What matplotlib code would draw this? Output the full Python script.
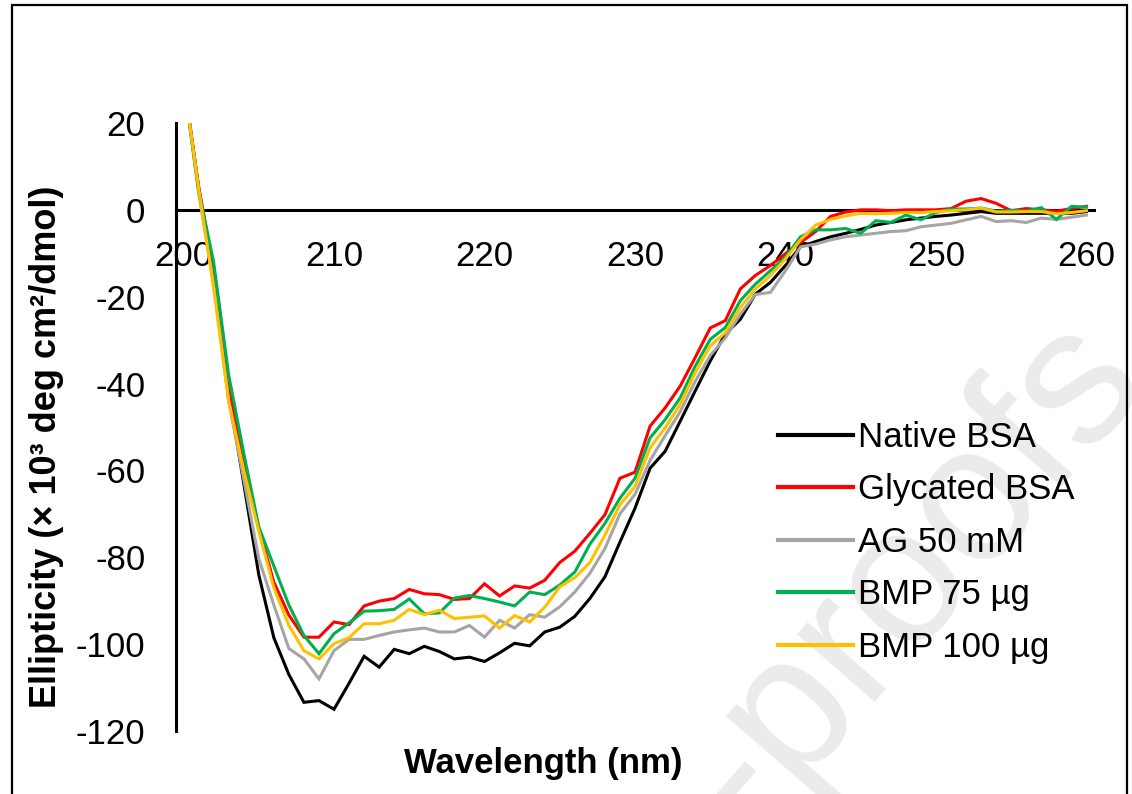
import matplotlib
matplotlib.use("Agg")
import matplotlib.pyplot as plt
from matplotlib.lines import Line2D
from matplotlib.patches import Rectangle

plt.rcParams['font.family'] = ['Liberation Sans', 'DejaVu Sans']

wavelength = list(range(200, 261))

native_bsa = [30, 5, -16, -42, -63, -84, -98.5, -107, -113.4, -113.0,
              -115.0, -109, -102.8, -105.3, -101.2, -102.2, -100.5, -101.7, -103.4, -103.0,
              -104.0, -102.0, -99.8, -100.4, -97.2, -96.1, -93.6, -89.5, -84.5, -76.5,
              -68.7, -59.5, -55.6, -48.7, -41.7, -34.8, -28.6, -25.2, -19.4, -16.7,
              -12.8, -8.5, -7.3, -6.2, -5.4, -4.5, -3.5, -2.9, -2.3, -1.9,
              -1.5, -1.2, -0.8, -0.4, -0.8, -0.8, -0.8, -0.8, -0.8, -0.8,
              -0.4]
glycated_bsa = [30, 5.5, -14, -41, -58, -73.3, -85.7, -93.3, -98.4, -98.4,
                -94.9, -95.5, -91.2, -90.1, -89.5, -87.4, -88.4, -88.6, -89.7, -89.5,
                -86.1, -88.9, -86.6, -87.1, -85.3, -81.2, -78.6, -74.5, -70.2, -61.8,
                -60.4, -49.8, -45.6, -40.6, -34.0, -27.2, -25.5, -18.2, -15.1, -12.8,
                -10.1, -7.5, -5.0, -1.5, -0.5, 0, 0, -0.2, 0, 0,
                0, 0.3, 2.0, 2.6, 1.5, -0.2, 0.3, 0, -0.3, 0.3,
                0.8]
ag_50mm = [30, 4, -17, -44, -62, -80.3, -91, -101, -103.4, -108,
           -101.5, -98.9, -98.9, -98, -97.2, -96.7, -96.3, -97.2, -97.2, -95.7,
           -98.4, -94.5, -96.3, -93.2, -93.8, -91.4, -88, -83.7, -78, -70,
           -65.5, -57.7, -52, -46.5, -39.5, -33.5, -29.5, -24, -19.5, -19,
           -14, -8.5, -7.9, -6.9, -6.2, -5.8, -5.4, -5.0, -4.8, -3.9,
           -3.5, -3.1, -2.3, -1.5, -2.7, -2.5, -2.9, -1.9, -2.2, -1.7,
           -1.2]
bmp_75 = [30, 4.5, -12, -38, -56, -73, -82, -91, -98, -102.2,
          -97.6, -95.1, -92.4, -92.3, -92, -89.6, -93, -92.8, -89.4, -88.8,
          -89.5, -90.3, -91.2, -88, -88.6, -86.4, -83.4, -77, -72.2, -66.4,
          -61.8, -52.5, -48.3, -43.3, -36, -29.8, -27.1, -20.9, -17.1, -14,
          -10.9, -6.2, -4.6, -4.6, -4.3, -5.4, -2.5, -2.9, -1.2, -2.3,
          -0.6, 0.2, 0.2, 0.4, -0.3, -0.1, -0.3, 0.5, -2.2, 0.8,
          0.6]
bmp_100 = [30, 5, -18, -44, -60, -74, -87, -95.7, -101.5, -103.4,
           -99.9, -98.5, -95.3, -95.3, -94.5, -92, -93.2, -92.2, -94.1, -93.8,
           -93.5, -96.3, -93.4, -94.9, -91.5, -86.8, -84.7, -81.2, -74.9, -67.9,
           -63.7, -54.8, -50.2, -44.8, -37.5, -31.3, -28.3, -22.5, -18.2, -15.1,
           -11.3, -6.9, -3.5, -2.2, -1.4, -0.8, -0.9, -0.8, -0.6, -0.6,
           -0.4, -0.2, 0, 0.4, -0.5, -0.5, -0.4, -0.4, -0.9, -0.6,
           -0.2]

series_names = ["Native BSA", "Glycated BSA", "AG 50 mM", "BMP 75 \u00b5g", "BMP 100 \u00b5g"]
series_colors = ["#000000", "#FF0000", "#A5A5A5", "#00B050", "#FFC000"]
series_values = [native_bsa, glycated_bsa, ag_50mm, bmp_75, bmp_100]

x_ticks = [200, 210, 220, 230, 240, 250, 260]
y_ticks = [20, 0, -20, -40, -60, -80, -100, -120]

W, H = 1132, 794
fig = plt.figure(figsize=(W / 100, H / 100), dpi=100)

# watermark
fig.text(1150 / W, 1 - 385 / H, "Journal Pre-proofs", fontsize=140, color="#ebebeb",
         rotation=49, rotation_mode="anchor", ha="right", va="baseline", zorder=0)

# outer frame
fig.patches.append(Rectangle((12 / W, -0.1), (1127 - 12) / W, (1 - 5 / H) + 0.1,
                             transform=fig.transFigure, fill=False, edgecolor="black",
                             linewidth=1.6, zorder=5))

ax = fig.add_axes([176 / W, 1 - 731 / H, (1094 - 176) / W, (731 - 123) / H])
ax.patch.set_alpha(0)

for vals, name, col in zip(series_values, series_names, series_colors):
    ax.plot(wavelength, vals, color=col, linewidth=2.2, label=name, solid_joinstyle="miter")

ax.set_xlim(199.5, 260.5)
ax.set_ylim(-120, 20)
ax.set_xticks(x_ticks)
ax.set_yticks(y_ticks)
ax.set_xticklabels([str(t) for t in x_ticks])
ax.set_yticklabels([str(t) for t in y_ticks])

for s in ["top", "right"]:
    ax.spines[s].set_visible(False)
ax.spines["bottom"].set_position(("data", 0))
ax.spines["bottom"].set_linewidth(2.2)
ax.spines["left"].set_linewidth(2.2)
ax.spines["bottom"].set_zorder(0.5)
ax.tick_params(axis="x", length=0, pad=22, labelsize=25)
ax.tick_params(axis="y", length=0, pad=22, labelsize=25)

fig.text(543 / W, 1 - 763 / H, "Wavelength (nm)", fontsize=25, fontweight="bold",
         ha="center", va="center")
fig.text(47 / W, 1 - 447 / H, "Ellipticity (\u00d7 10\u00b3 deg cm\u00b2/dmol)", fontsize=26,
         fontweight="bold", rotation=90, ha="center", va="center")

handles = [Line2D([0], [0], color=c, linewidth=3) for c in series_colors]
leg = fig.legend(handles, series_names, loc="upper left",
                 bbox_to_anchor=(778 / W, 1 - 421 / H), frameon=False, fontsize=25,
                 handlelength=2.15, handletextpad=0.15, labelspacing=0.56, borderpad=0,
                 borderaxespad=0)

fig.savefig("out.png", dpi=100)
